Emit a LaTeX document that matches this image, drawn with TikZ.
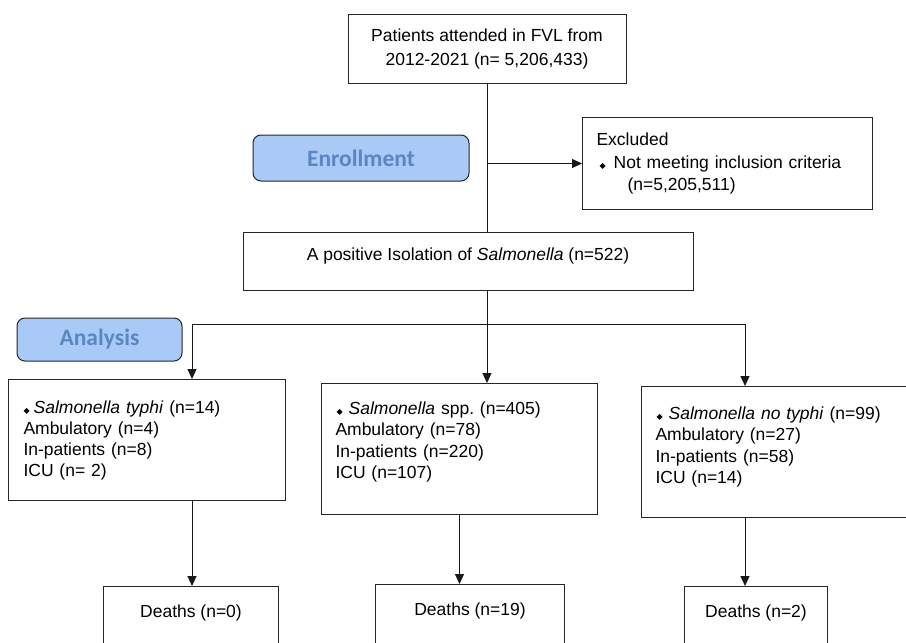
\documentclass[tikz,border=0pt]{standalone}
\usepackage{fontspec}
\setmainfont{Liberation Sans}
\newfontfamily\stagefont{Carlito}
\newfontfamily\symfont{DejaVu Sans}
\usetikzlibrary{arrows.meta}

\definecolor{stagefill}{HTML}{A9C9F7}
\definecolor{stagetext}{HTML}{5A87C2}
\newcommand{\bul}{{\symfont\fontsize{8}{8}\selectfont ◆}}

\tikzset{
	box/.style={draw=black!85, line width=1pt, fill=white, inner sep=0pt, font=\fontsize{17.5}{21.5}\selectfont},
	stage/.style={draw=black!85, line width=1pt, rounded corners=8pt, fill=stagefill, text=stagetext, font=\stagefont\bfseries\fontsize{23.5}{26}\selectfont},
	group/.style={box, anchor=north west, inner xsep=14pt, align=left},
	deaths/.style={box, anchor=north west, inner ysep=18pt, text height=13pt, text depth=50pt},
	arr/.style={-{Triangle[length=10pt,width=9pt]}, line width=1pt, black!90},
	link/.style={line width=1pt, black!90}
}

\begin{document}
\begin{tikzpicture}[x=1pt,y=-1pt]
	\clip (0,0) rectangle (906,643);
	\fill[white] (0,0) rectangle (906,643);

	\node[box, minimum width=278pt, minimum height=69pt, align=center, font=\fontsize{17.5}{24}\selectfont] (top) at (487,48.5) {Patients attended in FVL from\\2012-2021 (n= 5,206,433)};
	\node[stage, minimum width=216pt, minimum height=46pt] (enrol) at (361,158) {Enrollment};
	\node[box, anchor=north west, minimum height=92pt, text width=262pt, inner xsep=14pt, align=left, font=\fontsize{17.5}{22.5}\selectfont] (excl) at (582,117) {Excluded\\\hspace*{3pt}\bul\hspace{8pt}Not meeting inclusion criteria\\\hspace*{31pt}(n=5,205,511)};
	\node[box, minimum width=450pt, minimum height=58pt, text depth=13pt] (pos) at (468,261) {A positive Isolation of \textit{Salmonella} (n=522)};
	\node[stage, minimum width=165pt, minimum height=43pt] (analysis) at (99.5,339.5) {Analysis};

	\node[group, text width=247pt, inner xsep=15pt, minimum height=121pt, text depth=66pt, font=\fontsize{17.5}{21}\selectfont] (typhi) at (8,379) {\bul\hspace{4pt}\textit{Salmonella typhi} (n=14)\\Ambulatory (n=4)\\In-patients (n=8)\\ICU (n= 2)};
	\node[group, text width=248pt, minimum height=131pt, text depth=82pt] (spp) at (321,383) {\hspace*{1pt}\bul\hspace{6pt}\textit{Salmonella} spp.\ (n=405)\\Ambulatory (n=78)\\In-patients (n=220)\\ICU (n=107)};
	\node[group, text width=272pt, minimum height=131pt, text depth=78pt] (notyphi) at (641,386) {\hspace*{1pt}\bul\hspace{6pt}\textit{Salmonella no typhi} (n=99)\\Ambulatory (n=27)\\In-patients (n=58)\\ICU (n=14)};

	\node[deaths, minimum width=175pt] (d1) at (103,586) {Deaths (n=0)};
	\node[deaths, minimum width=189pt] (d2) at (375,584) {Deaths (n=19)};
	\node[deaths, minimum width=143pt] (d3) at (684,586) {Deaths (n=2)};

	\coordinate (lt) at (192,324);
	\coordinate (rt) at (745,324);

	\draw[link] (top.south) -- (top.south |- pos.north);
	\draw[arr] (top.south |- excl.west) -- (excl.west);
	\draw[arr] (top.south |- pos.south) -- (top.south |- spp.north);
	\draw[link] (lt) -- (rt);
	\draw[arr] (lt) -- (lt |- typhi.north);
	\draw[arr] (rt) -- (rt |- notyphi.north);
	\draw[arr] (lt |- typhi.south) -- (lt |- d1.north);
	\draw[arr] (spp.south) -- (spp.south |- d2.north);
	\draw[arr] (rt |- notyphi.south) -- (rt |- d3.north);
\end{tikzpicture}
\end{document}
